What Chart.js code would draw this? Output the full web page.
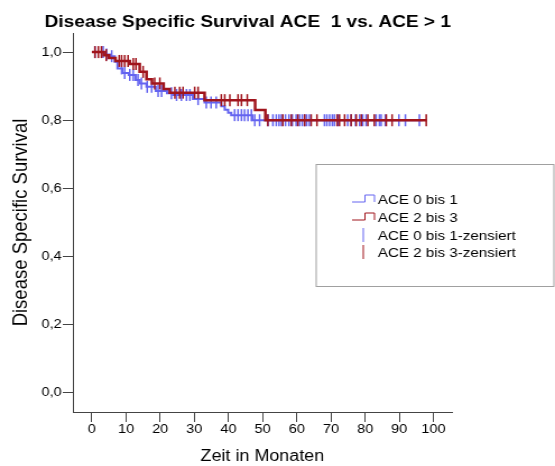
<!DOCTYPE html>
<html>
<head>
<meta charset="utf-8">
<script src="https://cdn.jsdelivr.net/npm/chart.js@4"></script>
<style>
  html, body { margin: 0; padding: 0; background: #fff; overflow: hidden; }
  /* the picture is a little wider than tall, so the whole chart is stretched sideways */
  #wrap { width: 495px; height: 466px; transform: scaleX(1.1212); transform-origin: 0 0; }
</style>
</head>
<body>
<div id="wrap"><canvas id="myChart"></canvas></div>
<script>
// Kaplan-Meier steps
const blueTimes = [0, 3.8, 5.3, 6.7, 7.5, 8.9, 10.8, 12.8, 14.0, 16.0, 18.7, 22.0, 23.8, 29.6, 33.0, 37.9, 38.9, 39.9, 40.8, 47.0, 96.8];
const blueSurv  = [1.0, 0.993, 0.988, 0.972, 0.952, 0.939, 0.933, 0.918, 0.908, 0.898, 0.886, 0.879, 0.874, 0.862, 0.852, 0.841, 0.831, 0.822, 0.815, 0.800, 0.800];

const redTimes = [0, 3.5, 5.0, 6.9, 11.1, 14.0, 16.0, 17.6, 21.0, 22.8, 33.0, 47.8, 50.8, 98.0];
const redSurv  = [1.0, 0.991, 0.983, 0.974, 0.965, 0.942, 0.920, 0.908, 0.892, 0.881, 0.859, 0.830, 0.800, 0.800];

// censored cases (times only, the height comes from the curve)
const blueCensored = [0.9, 3.3, 4.3, 5.8, 8.7, 9.6, 11.1, 12.1, 13.5, 14.5, 16.2, 17.5, 19.4, 20.4, 23.3, 24.8, 26.2, 27.7, 28.7, 31.1,
  33.5, 34.9, 36.4, 41.8, 42.8, 43.8, 44.7, 45.7, 46.7, 47.7, 49.1, 51.6, 53.0, 54.0, 54.8, 55.5, 56.7, 57.7, 58.7, 59.8,
  60.8, 61.6, 62.3, 62.9, 63.7, 68.1, 68.8, 69.6, 70.4, 71.0, 72.0, 74.9, 75.9, 77.2, 78.4, 79.3, 80.3, 83.2, 84.2, 84.7,
  85.9, 89.9, 91.8, 95.9];
const redCensored = [0.9, 1.9, 2.8, 4.2, 8.0, 8.7, 9.6, 10.6, 12.1, 12.9, 15.0, 18.4, 19.9, 24.3, 25.7, 26.7, 30.1, 31.1,
  37.9, 38.9, 40.4, 42.8, 43.8, 45.5, 51.5, 55.9, 58.4, 60.3, 62.3, 64.2, 65.9, 71.8, 72.5, 74.0, 75.9, 77.4, 78.9,
  80.8, 82.7, 86.2, 87.9, 97.9];

const seriesNames = ["ACE 0 bis 1", "ACE 2 bis 3", "ACE 0 bis 1-zensiert", "ACE 2 bis 3-zensiert"];
const xTicks = [0, 10, 20, 30, 40, 50, 60, 70, 80, 90, 100];
const yTicks = [0, 0.2, 0.4, 0.6, 0.8, 1.0];

const titleText = "Disease Specific Survival ACE  1 vs. ACE > 1";
const fam = "'Liberation Sans', Arial, sans-serif";
const blue = "#6464f0";
const red = "#a0141c";

function survivalAt(times, surv, t) {
    let s = surv[0];
    for (let i = 0; i < times.length; i++) {
        if (times[i] <= t) s = surv[i];
    }
    return s;
}

function toPoints(times, surv) {
    return times.map((t, i) => ({ x: t, y: surv[i] }));
}

function censorPoints(list, times, surv) {
    return list.map(t => ({ x: t, y: survivalAt(times, surv, t) }));
}

// title and the boxed legend are drawn by hand
const extras = {
    id: "extras",
    afterDraw(chart) {
        const ctx = chart.ctx;
        ctx.save();
        ctx.fillStyle = "#000";
        ctx.font = "bold 17px " + fam;
        ctx.textAlign = "center";
        ctx.textBaseline = "middle";
        ctx.fillText(titleText, 221, 22);

        // legend box
        ctx.strokeStyle = "#a0a0a0";
        ctx.lineWidth = 1;
        ctx.strokeRect(282, 164.5, 212, 122);

        ctx.font = "13.5px " + fam;
        ctx.textAlign = "left";
        ctx.fillStyle = "#000";
        const rows = [199, 217, 235, 252];
        const cols = [blue, red, blue, red];
        rows.forEach((y, i) => {
            ctx.strokeStyle = cols[i];
            ctx.lineWidth = 1;
            ctx.beginPath();
            if (i < 2) {
                ctx.moveTo(314, y + 3);
                ctx.lineTo(325.5, y + 3);
                ctx.lineTo(325.5, y - 4);
                ctx.lineTo(334, y - 4);
                ctx.lineTo(334, y + 3);
            } else {
                ctx.moveTo(324, y - 7);
                ctx.lineTo(324, y + 7);
            }
            ctx.stroke();
            ctx.fillText(seriesNames[i], 337, y + 1);
        });
        ctx.restore();
    }
};

new Chart("myChart", {
    data: {
        datasets: [
            {
                type: "line", label: seriesNames[1], order: 1,
                data: toPoints(redTimes, redSurv),
                stepped: true, borderColor: red, borderWidth: 2.5, pointRadius: 0, fill: false
            },
            {
                type: "scatter", label: seriesNames[3], order: 2,
                data: censorPoints(redCensored, redTimes, redSurv),
                pointStyle: "line", rotation: 90, radius: 6, borderColor: red, borderWidth: 1.5
            },
            {
                type: "scatter", label: seriesNames[2], order: 3,
                data: censorPoints(blueCensored, blueTimes, blueSurv),
                pointStyle: "line", rotation: 90, radius: 6, borderColor: blue, borderWidth: 1.5
            },
            {
                type: "line", label: seriesNames[0], order: 4,
                data: toPoints(blueTimes, blueSurv),
                stepped: true, borderColor: blue, borderWidth: 2, pointRadius: 0, fill: false
            }
        ]
    },
    options: {
        responsive: true,
        maintainAspectRatio: false,
        animation: false,
        layout: { padding: { top: 33, right: 92, bottom: 0, left: 0 } },
        plugins: {
            legend: { display: false },
            tooltip: { enabled: false }
        },
        scales: {
            x: {
                type: "linear",
                min: -5.56,
                max: 105.4,
                afterBuildTicks: s => { s.ticks = xTicks.map(v => ({ value: v })); },
                afterFit: s => { s.height = 54; },
                grid: { drawOnChartArea: false, drawTicks: true, tickLength: 10, color: "#444" },
                border: { display: true, color: "#444", width: 1 },
                ticks: { autoSkip: false, maxRotation: 0, padding: 0, color: "#000", font: { size: 13, family: fam }, callback: v => v },
                title: { display: true, text: "Zeit in Monaten", color: "#000", font: { size: 16, family: fam }, padding: 0 }
            },
            y: {
                type: "linear",
                min: -0.056,
                max: 1.056,
                afterBuildTicks: s => { s.ticks = yTicks.map(v => ({ value: v })); },
                afterFit: s => { s.width = 65; },
                grid: { drawOnChartArea: false, drawTicks: true, tickLength: 9, color: "#444" },
                border: { display: true, color: "#444", width: 1 },
                ticks: { autoSkip: false, padding: 1, color: "#000", font: { size: 13, family: fam }, callback: v => v.toFixed(1).replace(".", ",") },
                title: { display: true, text: "Disease Specific Survival", color: "#000", font: { size: 18.5, family: fam }, padding: { top: 8, bottom: 0 } }
            }
        }
    },
    plugins: [extras]
});
</script>
</body>
</html>
